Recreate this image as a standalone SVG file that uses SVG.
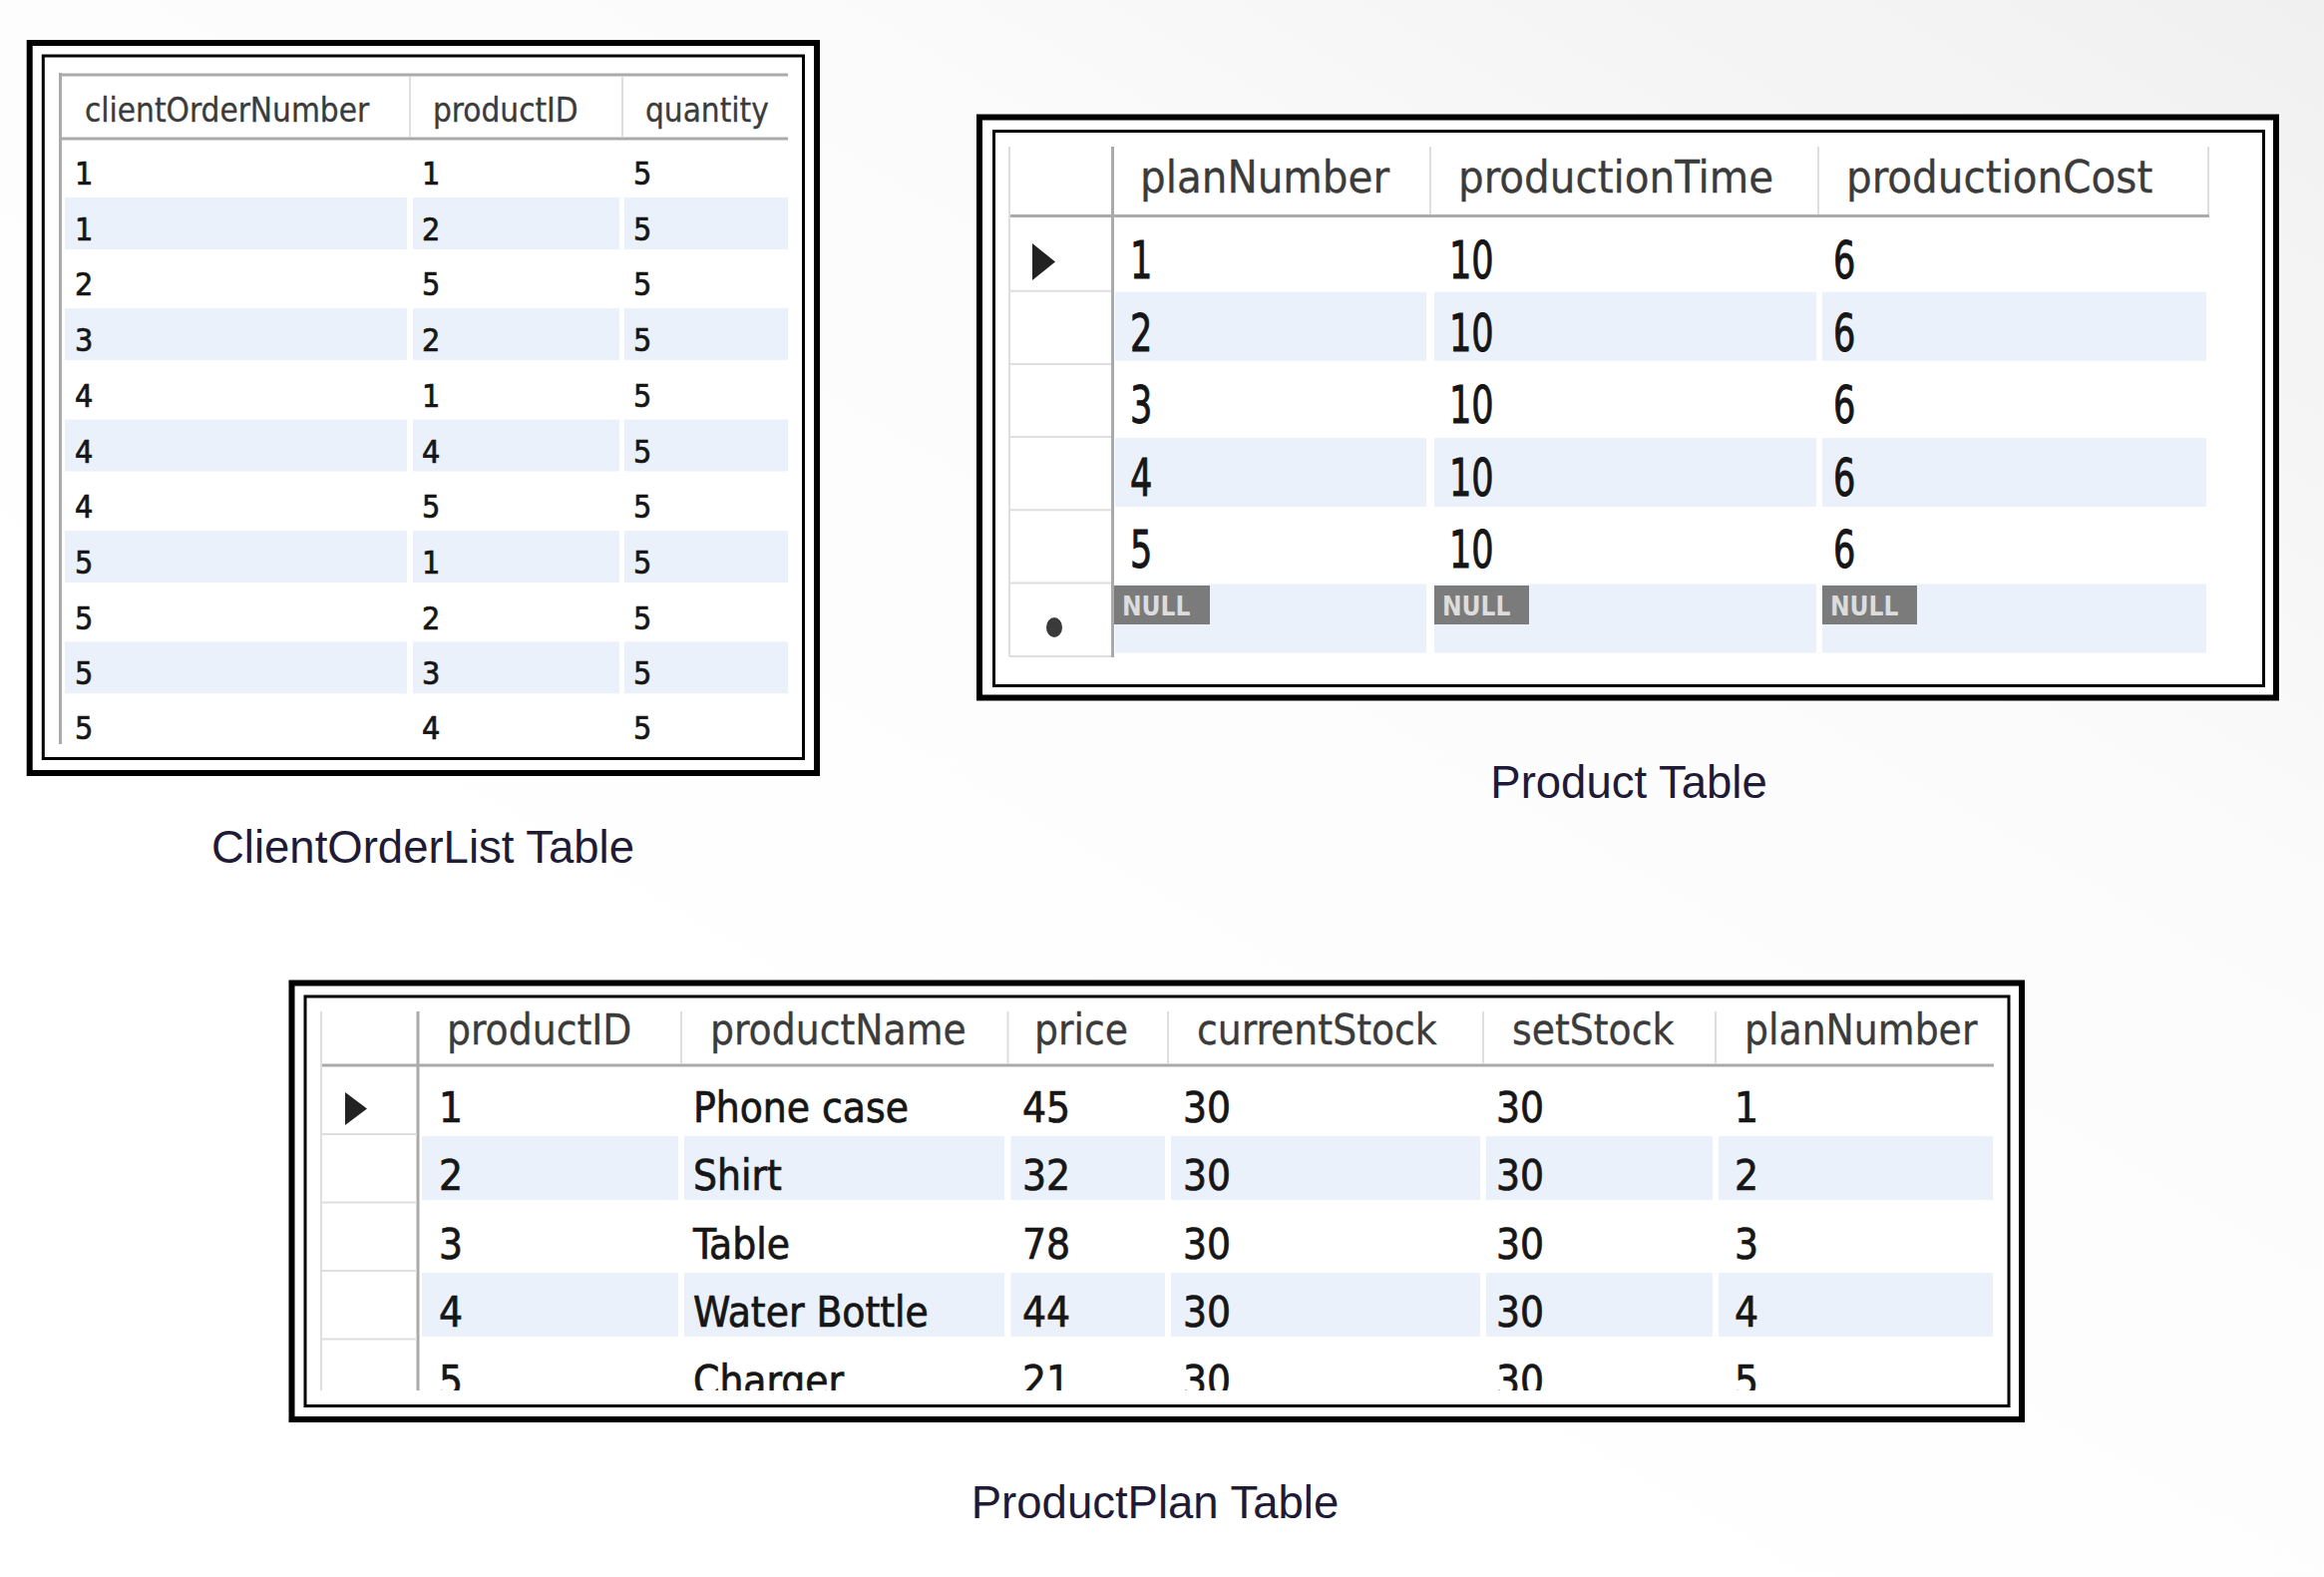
<svg xmlns="http://www.w3.org/2000/svg" width="2330" height="1581" viewBox="0 0 2330 1581">
<defs>
<linearGradient id="bgGrad" x1="0.35" y1="0.75" x2="1" y2="0">
<stop offset="0" stop-color="#ffffff"/>
<stop offset="0.5" stop-color="#fcfcfc"/>
<stop offset="1" stop-color="#f0f0f0"/>
</linearGradient>
<clipPath id="ppClip"><rect x="300" y="1000" width="1720" height="394"/></clipPath>
<style>
.frameO{fill:none;stroke:#000;stroke-width:6}
.frameI{fill:none;stroke:#000;stroke-width:3}
.panel{fill:#fff}
.band{fill:#eaf1fb}
.gridD{stroke:#aaaaaa;stroke-width:3;fill:none}
.gridL{stroke:#dedede;stroke-width:2;fill:none}
.hdr{font-family:"DejaVu Sans Condensed","DejaVu Sans",sans-serif;fill:#3b3b3b;stroke:#3b3b3b;stroke-width:0.3}
.cell{font-family:"DejaVu Sans Condensed","DejaVu Sans",sans-serif;fill:#161616;stroke:#161616;stroke-width:0.7}
.cap{font-family:"Liberation Sans",Arial,sans-serif;font-size:45.5px;fill:#1f1a36;text-anchor:middle}
.nullbox{fill:#7b7b7b}
.nulltxt{font-family:"DejaVu Sans Condensed","DejaVu Sans",sans-serif;font-weight:bold;font-size:26px;fill:#dcdcdc}
.sel{fill:#222}
</style>
</defs>
<rect id="bg" x="0" y="0" width="2330" height="1581" fill="url(#bgGrad)"/>
<g id="connectors"/>

<!-- ClientOrderList -->
<g id="node-clientorderlist">
<rect class="panel" x="27" y="40" width="795" height="738"/>
<rect class="frameO" x="29.7" y="43" width="789.3" height="732"/>
<rect class="frameI" x="43.3" y="56" width="762.2" height="704.5"/>
<g class="bands">
<rect class="band" x="65" y="198" width="343" height="52"/><rect class="band" x="414" y="198" width="207" height="52"/><rect class="band" x="626" y="198" width="164" height="52"/>
<rect class="band" x="65" y="309" width="343" height="52"/><rect class="band" x="414" y="309" width="207" height="52"/><rect class="band" x="626" y="309" width="164" height="52"/>
<rect class="band" x="65" y="420.5" width="343" height="52"/><rect class="band" x="414" y="420.5" width="207" height="52"/><rect class="band" x="626" y="420.5" width="164" height="52"/>
<rect class="band" x="65" y="532" width="343" height="52"/><rect class="band" x="414" y="532" width="207" height="52"/><rect class="band" x="626" y="532" width="164" height="52"/>
<rect class="band" x="65" y="643.3" width="343" height="52"/><rect class="band" x="414" y="643.3" width="207" height="52"/><rect class="band" x="626" y="643.3" width="164" height="52"/>
</g>
<line class="gridD" x1="60" y1="75" x2="790" y2="75"/>
<line class="gridD" x1="60" y1="139" x2="790" y2="139"/>
<line class="gridD" x1="60.5" y1="73" x2="60.5" y2="746"/>
<line class="gridL" x1="411" y1="77" x2="411" y2="137"/>
<line class="gridL" x1="624" y1="77" x2="624" y2="137"/>
<g class="hdr" font-size="33">
<text x="85" y="122">clientOrderNumber</text>
<text x="434" y="122">productID</text>
<text x="647" y="122">quantity</text>
</g>
<g class="cell" font-size="32">
<text x="75" y="185">1</text><text x="423" y="185">1</text><text x="635" y="185">5</text>
<text x="75" y="240.7">1</text><text x="423" y="240.7">2</text><text x="635" y="240.7">5</text>
<text x="75" y="296.4">2</text><text x="423" y="296.4">5</text><text x="635" y="296.4">5</text>
<text x="75" y="352.1">3</text><text x="423" y="352.1">2</text><text x="635" y="352.1">5</text>
<text x="75" y="407.8">4</text><text x="423" y="407.8">1</text><text x="635" y="407.8">5</text>
<text x="75" y="463.5">4</text><text x="423" y="463.5">4</text><text x="635" y="463.5">5</text>
<text x="75" y="519.2">4</text><text x="423" y="519.2">5</text><text x="635" y="519.2">5</text>
<text x="75" y="574.9">5</text><text x="423" y="574.9">1</text><text x="635" y="574.9">5</text>
<text x="75" y="630.6">5</text><text x="423" y="630.6">2</text><text x="635" y="630.6">5</text>
<text x="75" y="686.3">5</text><text x="423" y="686.3">3</text><text x="635" y="686.3">5</text>
<text x="75" y="741">5</text><text x="423" y="741">4</text><text x="635" y="741">5</text>
</g>
<text class="cap" x="424" y="865">ClientOrderList Table</text>
</g>

<!-- Product -->
<g id="node-product">
<rect class="panel" x="979" y="114.5" width="1306" height="588"/>
<rect class="frameO" x="982" y="117.5" width="1300" height="582"/>
<rect class="frameI" x="996.5" y="131.5" width="1273" height="556"/>
<g class="bands">
<rect class="band" x="1118" y="292.7" width="312" height="69"/><rect class="band" x="1438" y="292.7" width="383" height="69"/><rect class="band" x="1827" y="292.7" width="385" height="69"/>
<rect class="band" x="1118" y="439.1" width="312" height="69"/><rect class="band" x="1438" y="439.1" width="383" height="69"/><rect class="band" x="1827" y="439.1" width="385" height="69"/>
<rect class="band" x="1118" y="585.5" width="312" height="69"/><rect class="band" x="1438" y="585.5" width="383" height="69"/><rect class="band" x="1827" y="585.5" width="385" height="69"/>
</g>
<line class="gridD" x1="1012" y1="216.5" x2="2215" y2="216.5"/>
<line class="gridD" x1="1115.5" y1="147" x2="1115.5" y2="659"/>
<line class="gridL" x1="1012" y1="147" x2="1012" y2="658"/>
<line class="gridL" x1="1434" y1="147" x2="1434" y2="215"/>
<line class="gridL" x1="1823" y1="147" x2="1823" y2="215"/>
<line class="gridL" x1="2214" y1="147" x2="2214" y2="215"/>
<g class="gridL">
<line x1="1012" y1="291.7" x2="1114" y2="291.7"/>
<line x1="1012" y1="364.9" x2="1114" y2="364.9"/>
<line x1="1012" y1="438.1" x2="1114" y2="438.1"/>
<line x1="1012" y1="511.3" x2="1114" y2="511.3"/>
<line x1="1012" y1="584.5" x2="1114" y2="584.5"/>
<line x1="1012" y1="658" x2="1114" y2="658"/>
</g>
<polygon class="sel" points="1035,244 1058,262.5 1035,281"/>
<ellipse cx="1057" cy="629" rx="8" ry="10" fill="#3a3a3a"/>
<g class="hdr" font-size="45">
<text x="1143" y="193">planNumber</text>
<text x="1462" y="193">productionTime</text>
<text x="1851" y="193">productionCost</text>
</g>
<g class="cell" font-size="39" transform="scale(1,1.3)">
<text x="1133" y="214.6">1</text><text x="1453" y="214.6">10</text><text x="1838" y="214.6">6</text>
<text x="1133" y="270.5">2</text><text x="1453" y="270.5">10</text><text x="1838" y="270.5">6</text>
<text x="1133" y="326.3">3</text><text x="1453" y="326.3">10</text><text x="1838" y="326.3">6</text>
<text x="1133" y="382.2">4</text><text x="1453" y="382.2">10</text><text x="1838" y="382.2">6</text>
<text x="1133" y="438.0">5</text><text x="1453" y="438.0">10</text><text x="1838" y="438.0">6</text>
</g>
<g>
<rect class="nullbox" x="1117" y="587" width="96" height="39"/>
<rect class="nullbox" x="1438" y="587" width="95" height="39"/>
<rect class="nullbox" x="1827" y="587" width="95" height="39"/>
<text class="nulltxt" x="1125" y="617">NULL</text>
<text class="nulltxt" x="1446" y="617">NULL</text>
<text class="nulltxt" x="1835" y="617">NULL</text>
</g>
<text class="cap" x="1633" y="800">Product Table</text>
</g>

<!-- ProductPlan -->
<g id="node-productplan">
<rect class="panel" x="289.5" y="982.5" width="1740.5" height="443.5"/>
<rect class="frameO" x="292.5" y="985.5" width="1734.5" height="437.5"/>
<rect class="frameI" x="306" y="999" width="1708" height="410.5"/>
<g class="bands">
<rect class="band" x="423" y="1139" width="257" height="64"/><rect class="band" x="686" y="1139" width="321" height="64"/><rect class="band" x="1013.5" y="1139" width="154.5" height="64"/><rect class="band" x="1174" y="1139" width="310" height="64"/><rect class="band" x="1490" y="1139" width="227" height="64"/><rect class="band" x="1723" y="1139" width="275" height="64"/>
<rect class="band" x="423" y="1276" width="257" height="64"/><rect class="band" x="686" y="1276" width="321" height="64"/><rect class="band" x="1013.5" y="1276" width="154.5" height="64"/><rect class="band" x="1174" y="1276" width="310" height="64"/><rect class="band" x="1490" y="1276" width="227" height="64"/><rect class="band" x="1723" y="1276" width="275" height="64"/>
</g>
<line class="gridD" x1="322" y1="1068" x2="1999" y2="1068"/>
<line class="gridD" x1="419" y1="1014" x2="419" y2="1394"/>
<line class="gridL" x1="322" y1="1014" x2="322" y2="1394"/>
<line class="gridL" x1="683" y1="1014" x2="683" y2="1066"/>
<line class="gridL" x1="1010.5" y1="1014" x2="1010.5" y2="1066"/>
<line class="gridL" x1="1171" y1="1014" x2="1171" y2="1066"/>
<line class="gridL" x1="1487" y1="1014" x2="1487" y2="1066"/>
<line class="gridL" x1="1720" y1="1014" x2="1720" y2="1066"/>
<g class="gridL">
<line x1="322" y1="1137" x2="418" y2="1137"/>
<line x1="322" y1="1205.5" x2="418" y2="1205.5"/>
<line x1="322" y1="1274" x2="418" y2="1274"/>
<line x1="322" y1="1342.5" x2="418" y2="1342.5"/>
</g>
<polygon class="sel" points="346,1095 368,1111.5 346,1128"/>
<g class="hdr" font-size="42">
<text x="448" y="1047">productID</text>
<text x="712" y="1047">productName</text>
<text x="1037" y="1047">price</text>
<text x="1200" y="1047">currentStock</text>
<text x="1516" y="1047">setStock</text>
<text x="1749" y="1047">planNumber</text>
</g>
<g class="cell" font-size="42" clip-path="url(#ppClip)">
<text x="440" y="1124.5">1</text><text x="695" y="1124.5">Phone case</text><text x="1025" y="1124.5">45</text><text x="1186" y="1124.5">30</text><text x="1500" y="1124.5">30</text><text x="1739" y="1124.5">1</text>
<text x="440" y="1193">2</text><text x="695" y="1193">Shirt</text><text x="1025" y="1193">32</text><text x="1186" y="1193">30</text><text x="1500" y="1193">30</text><text x="1739" y="1193">2</text>
<text x="440" y="1261.5">3</text><text x="695" y="1261.5">Table</text><text x="1025" y="1261.5">78</text><text x="1186" y="1261.5">30</text><text x="1500" y="1261.5">30</text><text x="1739" y="1261.5">3</text>
<text x="440" y="1330">4</text><text x="695" y="1330">Water Bottle</text><text x="1025" y="1330">44</text><text x="1186" y="1330">30</text><text x="1500" y="1330">30</text><text x="1739" y="1330">4</text>
<text x="440" y="1398.5">5</text><text x="695" y="1398.5">Charger</text><text x="1025" y="1398.5">21</text><text x="1186" y="1398.5">30</text><text x="1500" y="1398.5">30</text><text x="1739" y="1398.5">5</text>
</g>
<text class="cap" x="1158" y="1522">ProductPlan Table</text>
</g>
</svg>
